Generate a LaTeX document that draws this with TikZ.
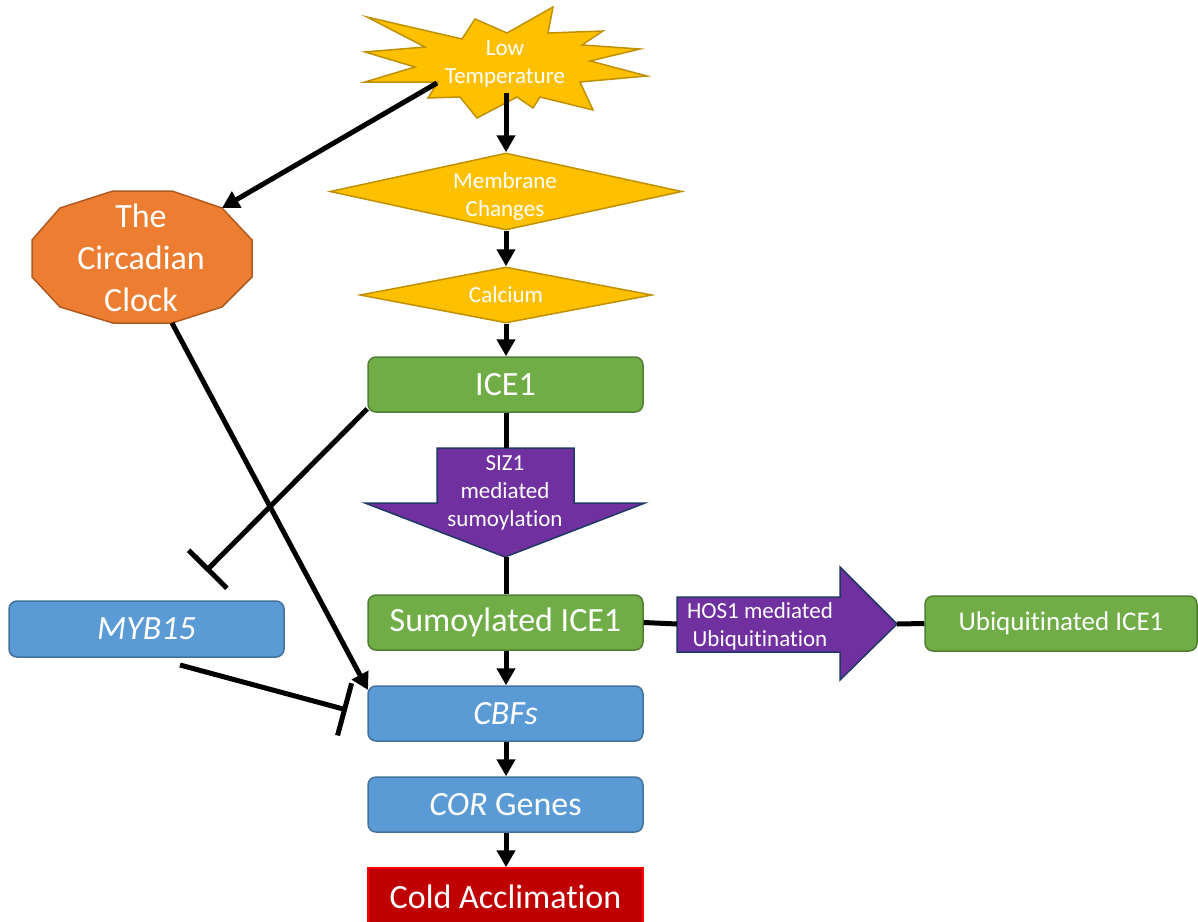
\documentclass[tikz,border=0pt]{standalone}
\usepackage{fontspec}
\setmainfont{Carlito}[Ligatures=NoCommon]
\usetikzlibrary{shapes.geometric,arrows.meta,calc}

\definecolor{sunY}{HTML}{FFC000}
\definecolor{sunYline}{HTML}{BF9000}
\definecolor{leafG}{HTML}{70AD47}
\definecolor{leafGline}{HTML}{507E32}
\definecolor{skyB}{HTML}{5B9BD5}
\definecolor{skyBline}{HTML}{41719C}
\definecolor{clockO}{HTML}{ED7D31}
\definecolor{clockOline}{HTML}{AE5A21}
\definecolor{procP}{HTML}{7030A0}
\definecolor{procPline}{HTML}{203864}
\definecolor{coldR}{HTML}{C00000}
\definecolor{coldRline}{HTML}{FF0000}

\tikzset{
  small/.style={font=\fontsize{11.5}{14}\selectfont, text=white, align=center},
  big/.style={font=\fontsize{17}{21}\selectfont, text=white, align=center},
  roundbox/.style={rectangle, rounded corners=4pt, minimum width=137.5pt,
    minimum height=27.5pt, inner sep=0pt, line width=0.75pt},
  greenbox/.style={roundbox, fill=leafG, draw=leafGline},
  bluebox/.style={roundbox, fill=skyB, draw=skyBline},
  yellowdia/.style={diamond, inner sep=0pt, fill=sunY, draw=sunYline, line width=0.75pt},
  flow/.style={line width=2.5pt, -{Triangle[width=9pt,length=8.5pt]}},
  link/.style={line width=2.5pt},
  block/.style={line width=2.5pt, -{Bar[width=27pt]}},
}

\begin{document}
\begin{tikzpicture}[x=0.5pt, y=-0.5pt]
\useasboundingbox (0,0) rectangle (1198,921);

% low temperature burst
\draw[fill=sunY, draw=sunYline, line width=0.75pt]
  (367,17) -- (462,39) -- (475,19) -- (507,33) -- (553,7) -- (548,33)
  -- (603,31) -- (582,45) -- (640,49) -- (590,61) -- (647,76) -- (580,82)
  -- (593,110) -- (540,97) -- (533,108) -- (517,97) -- (477,118) -- (460,97)
  -- (428,98) -- (438,82) -- (365,82) -- (415,67) -- (365,52) -- (425,47) -- cycle;
\node[small] (lowT) at (505,64) {Low\\Temperature};
\coordinate (burstL) at (437,83);
\coordinate (burstB) at (506,93);

% circadian clock polygon
\draw[fill=clockO, draw=clockOline, line width=0.75pt]
  (60,208) -- (113,191) -- (172,191) -- (222,208) -- (252,240) -- (252,277)
  -- (222,307) -- (172,323) -- (113,323) -- (60,307) -- (32,277) -- (32,240) -- cycle;
\node[big] (clock) at (141,258) {The\\Circadian\\Clock};
\coordinate (clockNE) at (222,208);
\coordinate (clockS) at (172,323);

% signalling chain
\node[yellowdia, minimum width=176pt, minimum height=38.5pt, shape aspect=4.57]
  (mem) at (506,191.5) {};
\node[small] (memText) at (505,196) {Membrane\\Changes};
\node[yellowdia, minimum width=146pt, minimum height=28pt, shape aspect=5.2, small]
  (cal) at (506,295) {Calcium};
\node[greenbox, big] (ice) at (505.5,384.5) {ICE1};

% SIZ1 block arrow
\draw[fill=procP, draw=procPline, line width=0.75pt]
  (437,448) -- (574,448) -- (574,503) -- (645,503) -- (505,557) -- (365,503)
  -- (437,503) -- cycle;
\node[small] (siz) at (505,493) {SIZ1\\mediated\\sumoylation};
\coordinate (sizT) at (506,448);
\coordinate (sizB) at (506,557);

\node[greenbox, big] (sumo) at (505.5,622.5) {Sumoylated ICE1};

% HOS1 block arrow
\draw[fill=procP, draw=procPline, line width=0.75pt]
  (677,597) -- (840,597) -- (840,567) -- (897,624) -- (840,680) -- (840,652)
  -- (677,652) -- cycle;
\node[small] (hos) at (760,626) {HOS1 mediated\\Ubiquitination};
\coordinate (hosL) at (677,624);
\coordinate (hosR) at (897,624);

\node[greenbox, minimum width=136pt, font=\fontsize{13.5}{16}\selectfont, text=white]
  (ubi) at (1061,623.5) {Ubiquitinated ICE1};

\node[bluebox, big] (cbf) at (505.5,713.5) {\itshape CBFs};
\node[bluebox, big] (cor) at (505.5,804.5) {\textit{COR} Genes};
\node[rectangle, fill=coldR, draw=coldRline, line width=0.75pt, minimum width=137.5pt,
  minimum height=29pt, inner sep=0pt, big] (cold) at (505.5,897) {Cold Acclimation};

\node[bluebox, minimum height=28pt, big] (myb) at (146.5,629) {\itshape MYB15};

% connectors
\draw[flow] (burstB) -- (mem.north);
\draw[flow] (burstL) -- (clockNE);
\draw[flow] (mem.south) -- (cal.north);
\draw[flow] (cal.south) -- (cal.south |- ice.north);
\draw[link] (ice.south -| sizT) -- (sizT);
\draw[link] (sizB) -- (sizB |- sumo.north);
\draw[link] (sumo.east) -- (hosL);
\draw[link] (hosR) -- (ubi.west);
\draw[flow] (sumo.south -| sizB) -- (sizB |- cbf.north);
\draw[flow] (cbf.south -| sizB) -- (sizB |- cor.north);
\draw[flow] (cor.south -| sizB) -- (sizB |- cold.north);

\coordinate (iceStop) at (206,571);
\coordinate (mybTail) at (180,665);
\coordinate (cbfStop) at (347,710);
\coordinate (cbfIn) at (368,690);
\draw[block] (ice.190) -- (iceStop);
\draw[block] (mybTail) -- (cbfStop);
\draw[flow] (clockS) -- (cbfIn);
\end{tikzpicture}
\end{document}
